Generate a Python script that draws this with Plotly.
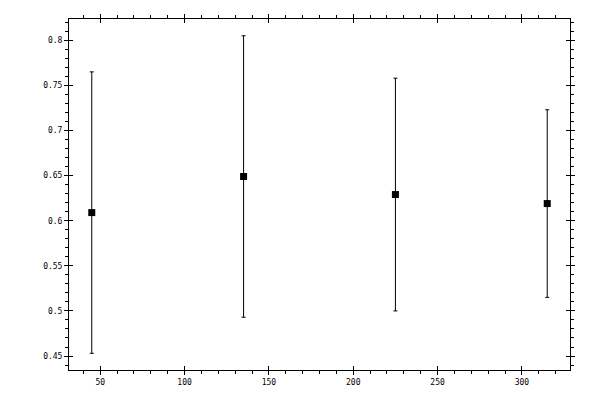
import plotly.graph_objects as go

angles = [45, 135, 225, 315]
means = [0.609, 0.649, 0.629, 0.619]
errs = [0.156, 0.156, 0.129, 0.104]

xr = [31.5, 328.5]
yr = [0.4345, 0.8236]

trace = go.Scatter(
    x=angles,
    y=means,
    mode='markers',
    marker=dict(symbol='square', size=7, color='black'),
    error_y=dict(type='data', array=errs, visible=True, color='black',
                 thickness=1, width=2),
    showlegend=False,
)

# inside halves of the major ticks, drawn on overlay axes
dummy = go.Scatter(x=[], y=[], xaxis='x2', yaxis='y2', showlegend=False)

font = dict(family='DejaVu Sans Mono', size=8, color='black')

layout = go.Layout(
    width=600, height=400,
    margin=dict(l=69, r=30, t=19, b=30),
    paper_bgcolor='white', plot_bgcolor='white',
    font=font,
    xaxis=dict(range=xr, dtick=50, tick0=0, ticks='outside', ticklen=4,
               tickcolor='black', showline=True, linecolor='black', linewidth=1,
               mirror='ticks', showgrid=False, zeroline=False,
               minor=dict(dtick=10, ticks='outside', ticklen=3, tickcolor='black')),
    yaxis=dict(range=yr, dtick=0.05, tick0=0, ticks='outside', ticklen=4,
               tickcolor='black', showline=True, linecolor='black', linewidth=1,
               mirror='ticks', showgrid=False, zeroline=False,
               minor=dict(dtick=0.01, ticks='outside', ticklen=3, tickcolor='black')),
    xaxis2=dict(range=xr, dtick=50, tick0=0, ticks='inside', ticklen=4,
                tickcolor='black', overlaying='x', mirror='ticks', showline=False,
                showticklabels=False, showgrid=False, zeroline=False),
    yaxis2=dict(range=yr, dtick=0.05, tick0=0, ticks='inside', ticklen=4,
                tickcolor='black', overlaying='y', mirror='ticks', showline=False,
                showticklabels=False, showgrid=False, zeroline=False),
)

fig = go.Figure(data=[trace, dummy], layout=layout)
# drop the default page margin so the figure sits at 0,0 in the window
fig.write_html("out.html", config={'displayModeBar': False},
               post_script="document.body.style.margin='0px';")
